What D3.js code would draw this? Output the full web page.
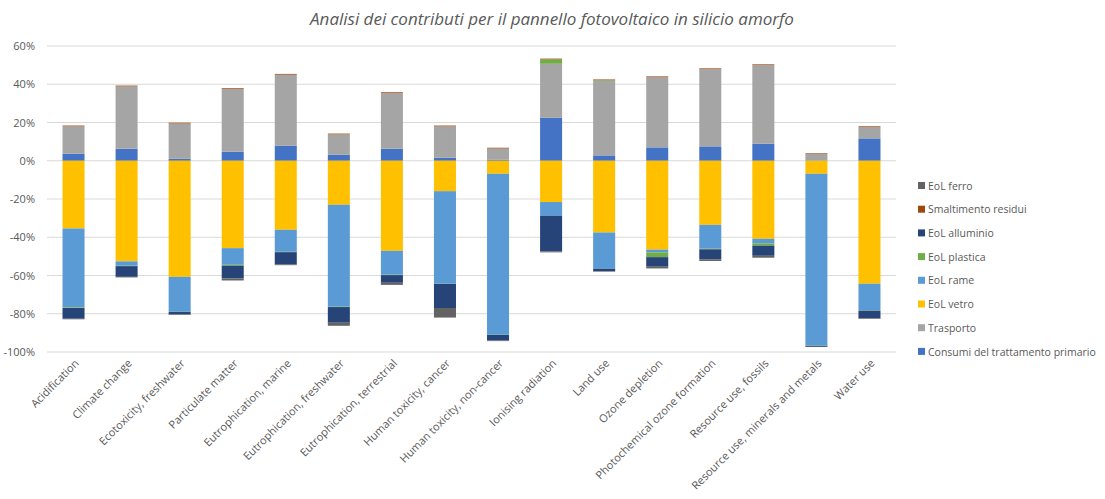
<!DOCTYPE html>
<html>
<head>
<meta charset="utf-8">
<script src="https://cdn.jsdelivr.net/npm/d3@7"></script>
<style>
  body { margin: 0; background: #fff; }
  text { font-family: "Open Sans", "Liberation Sans", sans-serif; fill: #595959; }
</style>
</head>
<body>
<div id="chart"></div>
<script>
// categories on x axis
var categories = ["Acidification", "Climate change", "Ecotoxicity, freshwater", "Particulate matter",
  "Eutrophication, marine", "Eutrophication, freshwater", "Eutrophication, terrestrial",
  "Human toxicity, cancer", "Human toxicity, non-cancer", "Ionising radiation", "Land use",
  "Ozone depletion", "Photochemical ozone formation", "Resource use, fossils",
  "Resource use, minerals and metals", "Water use"];

// series values (%)
var consumi     = [3.7, 6.3, 1.0, 4.7, 7.8, 3.1, 6.3, 1.6, 0.5, 22.5, 2.8, 7.0, 7.5, 8.9, 0.2, 11.7];
var trasporto   = [14.3, 32.6, 18.5, 32.8, 37.2, 10.7, 29.1, 16.4, 5.9, 28.2, 39.0, 36.7, 40.4, 41.1, 3.5, 5.9];
var eolVetro    = [-35.4, -52.6, -60.7, -45.7, -36.1, -23.0, -47.1, -15.9, -6.8, -21.6, -37.5, -46.5, -33.5, -40.8, -6.8, -64.3];
var eolRame     = [-41.3, -2.3, -18.3, -8.7, -11.5, -53.3, -12.5, -48.4, -84.2, -7.2, -19.0, -1.4, -12.5, -2.4, -89.9, -14.0];
var eolPlastica = [-0.3, -0.2, -0.1, -0.5, -0.2, -0.2, -0.2, -0.1, -0.1, 2.3, 0.3, -2.5, -0.3, -1.2, -0.1, -0.1];
var eolAllum    = [-5.6, -5.6, -1.3, -6.6, -6.3, -8.2, -4.0, -12.6, -2.9, -18.6, -1.2, -5.0, -5.2, -5.3, -0.5, -4.0];
var smaltimento = [0.4, 0.4, 0.4, 0.4, 0.4, 0.4, 0.4, 0.4, 0.4, 0.4, 0.4, 0.4, 0.4, 0.4, 0.3, 0.4];
var eolFerro    = [-0.3, -0.3, -0.2, -1.1, -0.5, -1.6, -1.1, -5.0, -0.3, -0.5, -0.3, -0.9, -0.9, -1.0, -0.1, -0.3];

var yTicks = [-100, -80, -60, -40, -20, 0, 20, 40, 60];

var series = [
  {name: "Consumi del trattamento primario", values: consumi, color: "#4472C4"},
  {name: "Trasporto", values: trasporto, color: "#A5A5A5"},
  {name: "EoL vetro", values: eolVetro, color: "#FFC000"},
  {name: "EoL rame", values: eolRame, color: "#5B9BD5"},
  {name: "EoL plastica", values: eolPlastica, color: "#70AD47"},
  {name: "EoL alluminio", values: eolAllum, color: "#264478"},
  {name: "Smaltimento residui", values: smaltimento, color: "#9E480E"},
  {name: "EoL ferro", values: eolFerro, color: "#636363"}
];

var svgWidth = 1105, svgHeight = 499;
var margin = {left: 47, right: 209, top: 46, bottom: 147};

var svg = d3.select("#chart").append("svg")
  .attr("width", svgWidth)
  .attr("height", svgHeight);

// table for stacking
var table = categories.map(function(c, i) {
  var row = {cat: c};
  series.forEach(function(s) { row[s.name] = s.values[i]; });
  return row;
});

var stacked = d3.stack()
  .keys(series.map(s => s.name))
  .offset(d3.stackOffsetDiverging)(table);

var x = d3.scaleBand()
  .domain(categories)
  .range([margin.left, svgWidth - margin.right])
  .paddingInner(0.585)
  .paddingOuter(0.2925);

var y = d3.scaleLinear()
  .domain([-100, 60])
  .range([svgHeight - margin.bottom, margin.top]);

// gridlines
svg.append("g")
  .selectAll("line")
  .data(yTicks)
  .enter()
  .append("line")
  .attr("x1", margin.left)
  .attr("x2", svgWidth - margin.right)
  .attr("y1", d => y(d))
  .attr("y2", d => y(d))
  .attr("stroke", "#d9d9d9")
  .attr("stroke-width", 1);

// y axis labels
var leftAxis = d3.axisLeft(y).tickValues(yTicks).tickFormat(d => d + "%").tickSize(0).tickPadding(12);
var yAxisG = svg.append("g")
  .attr("transform", `translate(${margin.left}, 0)`)
  .call(leftAxis);
yAxisG.select(".domain").remove();
yAxisG.selectAll("text").style("font-size", "11px").style("fill", "#595959");

// bars
svg.append("g")
  .selectAll("g")
  .data(stacked)
  .enter()
  .append("g")
  .attr("fill", (d, i) => series[i].color)
  .selectAll("rect")
  .data(d => d)
  .enter()
  .append("rect")
  .attr("x", d => x(d.data.cat))
  .attr("width", x.bandwidth())
  .attr("y", d => y(Math.max(d[0], d[1])))
  .attr("height", d => Math.abs(y(d[0]) - y(d[1])));

// x axis labels
var bottomAxis = d3.axisBottom(x).tickSize(0).tickPadding(0);
var xAxisG = svg.append("g")
  .attr("transform", `translate(0, ${svgHeight - margin.bottom})`)
  .call(bottomAxis);
xAxisG.select(".domain").remove();
xAxisG.selectAll("text")
  .style("font-size", "11px")
  .style("fill", "#595959")
  .style("text-anchor", "end")
  .attr("dy", "0")
  .attr("transform", "translate(6, 12) rotate(-45)");

// legend (reverse order)
var legend = svg.append("g")
  .attr("transform", "translate(918, 186)");
var legendItems = legend.selectAll("g")
  .data(series.slice().reverse())
  .enter()
  .append("g")
  .attr("transform", (d, i) => `translate(0, ${i * 23.7})`);
legendItems.append("rect")
  .attr("x", 0)
  .attr("y", -4)
  .attr("width", 7)
  .attr("height", 7)
  .attr("fill", d => d.color);
legendItems.append("text")
  .attr("x", 10)
  .attr("y", 0)
  .attr("dy", "0.35em")
  .style("font-size", "10.5px")
  .text(d => d.name);

// title
svg.append("text")
  .attr("x", 552)
  .attr("y", 25)
  .style("text-anchor", "middle")
  .style("font-size", "17px")
  .style("font-style", "italic")
  .text("Analisi dei contributi per il pannello fotovoltaico in silicio amorfo");
</script>
</body>
</html>
